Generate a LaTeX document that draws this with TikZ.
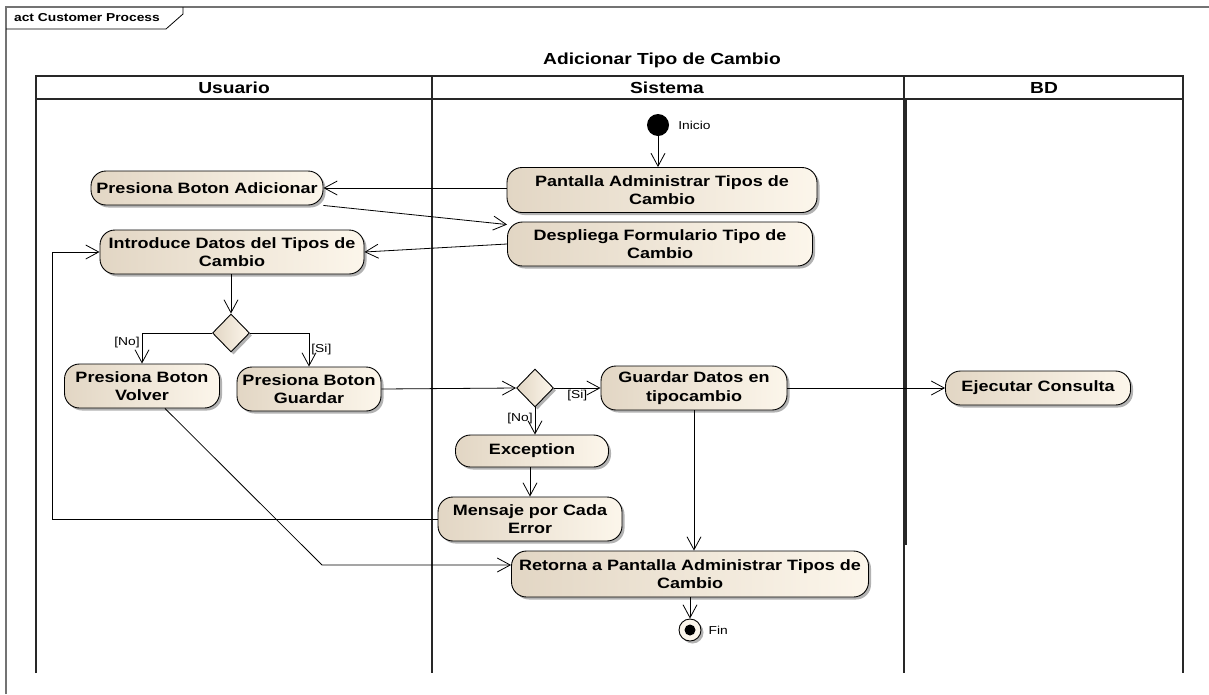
\documentclass[tikz,border=0pt]{standalone}
\usepackage{fontspec}
\setmainfont{Liberation Sans}[FakeStretch=1.2]
\usetikzlibrary{positioning,shapes.geometric,arrows.meta,shadows}

\definecolor{actleft}{RGB}{226,214,196}
\definecolor{actright}{RGB}{252,246,235}
\definecolor{laneline}{RGB}{40,40,40}
\definecolor{framegray}{RGB}{115,115,115}

\tikzset{
  actshadow/.style={drop shadow={shadow xshift=2.5pt, shadow yshift=-2.5pt, fill=black, opacity=0.3}},
  action/.style={draw=black, line width=0.9pt, rounded corners=15pt, inner sep=0pt, align=center,
    left color=actleft, right color=actright, actshadow,
    font=\fontsize{15}{18.5}\selectfont\bfseries,
    execute at begin node={\rule{0pt}{8pt}}},
  decision/.style={diamond, aspect=1, draw=black, line width=0.9pt, inner sep=0pt,
    minimum width=37pt, minimum height=38pt, left color=actleft, right color=actright, actshadow},
  initial/.style={circle, fill=black, minimum size=22pt, inner sep=0pt},
  final/.style={circle, draw=black, line width=0.9pt, fill=actright, minimum size=22pt, inner sep=0pt,
    actshadow, path picture={\fill[black] (path picture bounding box.center) circle (5.5pt);}},
  flow/.style={draw=black, line width=0.8pt, -{Straight Barb[length=13pt,width=14pt]}},
  guard/.style={font=\fontsize{11.5}{13}\selectfont, inner sep=2pt},
  lanehead/.style={font=\fontsize{16}{18}\selectfont\bfseries},
}

\begin{document}
\begin{tikzpicture}[x=1pt, y=-1pt]
  \useasboundingbox (0,0) rectangle (1209,694);

  % Frame and swimlanes
  \draw[framegray, line width=1.5pt] (6,694) -- (6,7) -- (1209,7);
  \draw[line width=0.8pt] (6,29) -- (166,29) -- (183,14) -- (183,7);
  \node[font=\fontsize{11.5}{13}\selectfont\bfseries] (frame_lbl) at (87,18) {act Customer Process};
  \node[lanehead] (title) at (662,60) {Adicionar Tipo de Cambio};

  \draw[laneline, line width=1.6pt] (36,673) -- (36,76) -- (1183,76) -- (1183,673);
  \draw[laneline, line width=1.6pt] (36,99) -- (1183,99);
  \draw[laneline, line width=1.6pt] (432,76) -- (432,673);
  \draw[laneline, line width=1.6pt] (904,76) -- (904,673);
  \draw[laneline, line width=1.2pt] (906,99) -- (906,545);
  \node[lanehead] (lane_u) at (234,88) {Usuario};
  \node[lanehead] (lane_s) at (667,88) {Sistema};
  \node[lanehead] (lane_bd) at (1044,88) {BD};

  % Define nodes
  \node[initial]                          (ini) at (658,125) {};
  \node[guard, right=7pt of ini]          (ini_lbl) {Inicio};
  \node[action, minimum width=310pt, minimum height=45pt] (pantalla) at (662,190) {Pantalla Administrar Tipos de\\Cambio};
  \node[action, minimum width=232pt, minimum height=34pt] (adicionar) at (207,188) {Presiona Boton Adicionar};
  \node[action, minimum width=305pt, minimum height=44pt] (despliega) at (660,244) {Despliega Formulario Tipo de\\Cambio};
  \node[action, minimum width=264pt, minimum height=44pt] (introduce) at (232,252) {Introduce Datos del Tipos de\\Cambio};
  \node[decision]                         (d_1) at (231,333) {};
  \node[action, minimum width=155pt, minimum height=44pt] (volver) at (142,386) {Presiona Boton\\Volver};
  \node[action, minimum width=144pt, minimum height=44pt] (guardar) at (309,389) {Presiona Boton\\Guardar};
  \node[decision]                         (d_2) at (535,388) {};
  \node[action, minimum width=186pt, minimum height=44pt] (datos) at (694,388) {Guardar Datos en\\tipocambio};
  \node[action, minimum width=185pt, minimum height=34pt] (consulta) at (1038,388) {Ejecutar Consulta};
  \node[action, minimum width=153pt, minimum height=32pt] (exception) at (532,451) {Exception};
  \node[action, minimum width=184pt, minimum height=44pt] (mensaje) at (530,519) {Mensaje por Cada\\Error};
  \node[action, minimum width=357pt, minimum height=46pt] (retorna) at (690,574) {Retorna a Pantalla Administrar Tipos de\\Cambio};
  \node[final]                            (fin) at (690,630) {};
  \node[guard, right=5pt of fin]          (fin_lbl) {Fin};

  \coordinate (back) at (52,519);
  \coordinate (bend) at (322,565);

  % Connect the nodes
  \draw[flow] (ini) -- (ini |- pantalla.north);
  \draw[flow] (pantalla.west |- adicionar.east) -- (adicionar.east);
  \draw[flow] (adicionar.south east) -- ([yshift=-3pt]despliega.north west);
  \draw[flow] (despliega.west) -- (introduce.east);
  \draw[flow] (introduce.south -| d_1) -- (d_1.north);
  \draw[flow] (d_1.west) -| node[guard, pos=0.65, left] (no_1) {[No]} (volver.north);
  \draw[flow] (d_1.east) -| node[guard, pos=0.75, right] (si_1) {[Si]} (guardar.north);
  \draw[flow] (guardar.east) -- (d_2.west);
  \draw[flow] (d_2.east) -- node[guard, below] (si_2) {[Si]} (datos.west);
  \draw[flow] (datos.east) -- (consulta.west);
  \draw[flow] (d_2.south) -- node[guard, pos=0.4, left] (no_2) {[No]} (d_2.south |- exception.north);
  \draw[flow] (exception.south -| mensaje.north) -- (mensaje.north);
  \draw[flow] (mensaje.west) -- (back) |- (introduce.west);
  \draw[flow] ([xshift=23pt]volver.south) -- (bend) -- ([yshift=9pt]retorna.west);
  \draw[flow] (datos.south) -- (datos.south |- retorna.north);
  \draw[flow] (retorna.south) -- (fin.north);

\end{tikzpicture}
\end{document}
